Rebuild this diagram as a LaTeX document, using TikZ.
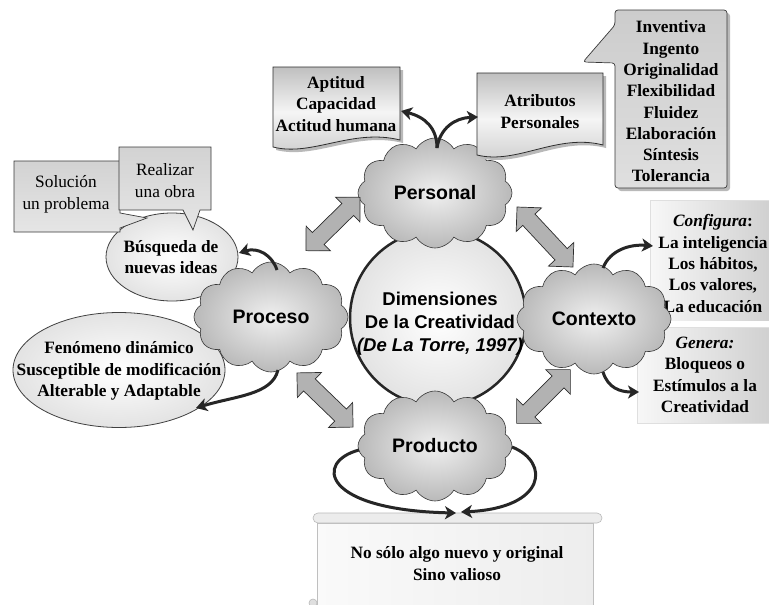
\documentclass[tikz,border=0pt]{standalone}
\usepackage{fontspec}
\setmainfont{Liberation Serif}
\setsansfont{Liberation Sans}
\usetikzlibrary{shapes.symbols,shapes.arrows,shapes.geometric,arrows.meta,calc}
\begin{document}
\begin{tikzpicture}[x=1pt,y=-1pt,
  cloudnode/.style={cloud, cloud puffs=12, cloud puff arc=120, aspect=1.45, draw=gray!45!black, line width=0.6pt, inner color=gray!12, outer color=gray!55, minimum width=154pt, minimum height=110pt, inner sep=0pt, font=\sffamily\bfseries\fontsize{19.5}{23}\selectfont},
  dbl/.style={double arrow, draw=gray!35!black, line width=0.7pt, fill=gray!60, inner sep=8pt, double arrow head extend=9pt},
  conn/.style={line width=3pt, draw=black!85, -{Stealth[length=11pt,width=13pt,inset=3pt]}},
  sb/.style={font=\bfseries\fontsize{17.3}{21.3}\selectfont, align=center, inner sep=0pt},
  sr/.style={font=\fontsize{17.3}{22}\selectfont, align=center, inner sep=0pt},
  ell/.style={ellipse, draw=gray!50!black, line width=0.8pt, inner color=white, outer color=gray!22, inner sep=0pt},
  docbox/.style={draw=gray!35!black, line width=0.8pt, top color=gray!50, bottom color=gray!40, middle color=gray!8},
  callout/.style={draw=gray!45!black, line width=0.7pt, top color=gray!35, bottom color=gray!20},
  shadowfill/.style={fill=gray!55, draw=none}
]
\useasboundingbox (0,0) rectangle (769,605);
\fill[white] (0,0) rectangle (769,605);

% ---- right-hand boxes (Configura / Genera)
\fill[left color=gray!6, right color=gray!38] (650,200) rectangle (775,320);
\draw[gray!25, line width=0.6pt] (775,200) -- (650,200) -- (650,320);
\fill[left color=gray!6, right color=gray!38] (637,327) rectangle (775,423);
\draw[gray!25, line width=0.6pt] (775,327) -- (637,327) -- (637,423) -- (775,423);
\node[sb] (conf) at (713,263.5) {\textit{Configura}:\\La inteligencia\\Los hábitos,\\Los valores,\\La educación};
\node[sb] (gen) at (705,375) {\textit{Genera:}\\Bloqueos o\\Estímulos a la\\Creatividad};

% ---- bottom scroll
\draw[gray!50, line width=0.6pt, left color=gray!4, right color=gray!14] (317,523) rectangle (593,612);
\draw[gray!55, line width=0.6pt, fill=gray!15, rounded corners=5pt] (313,513) rectangle (602,523);
\draw[gray!55, line width=0.6pt, fill=gray!25] (313,603) circle (4pt);
\node[sb] (prodt) at (457,563.5) {No sólo algo nuevo y original\\Sino valioso};

% ---- left ellipses
\node[ell, minimum width=132pt, minimum height=88pt] (busq) at (172,257) {};
\node[sb] (busqt) at (171,257) {Búsqueda de\\nuevas ideas};
\node[ell, minimum width=212pt, minimum height=115pt] (fen) at (119,370) {};
\node[sb] (fent) at (119,371) {Fenómeno dinámico\\Susceptible de modificación\\Alterable y Adaptable};

% ---- callouts
\draw[callout] (14,161) -- (120,161) -- (120,213) -- (147,218) -- (120,228) -- (120,232) -- (14,232) -- cycle;
\node[sr] (sol) at (66,194) {Solución\\un problema};
\draw[callout] (119,147) -- (211,147) -- (211,210) -- (200,210) -- (193,230) -- (183,210) -- (119,210) -- cycle;
\node[sr] (real) at (165,181) {Realizar\\una obra};

% ---- central circle
\node[circle, minimum size=176pt, line width=2.5pt, draw=black!85, inner color=white, outer color=gray!22] (centro) at (438,318) {};
\node[font=\sffamily\bfseries\fontsize{18.5}{23}\selectfont, align=center, inner sep=0pt] (centrot) at (440,324) {Dimensiones\\De la Creatividad\\\textit{(De La Torre, 1997)}};

% ---- clouds
\node[cloudnode] (personal) at (435,193) {Personal};
\node[cloudnode] (proceso) at (271,317) {Proceso};
\node[cloudnode] (contexto) at (594,319) {Contexto};
\node[cloudnode] (producto) at (435,446) {Producto};

% ---- top boxes
\fill[shadowfill] (276,70) -- (403,70) -- (403,143) .. controls (355,131) and (315,160) .. (276,150) -- cycle;
\draw[docbox] (273,67) -- (400,67) -- (400,140) .. controls (352,128) and (312,157) .. (273,147) -- cycle;
\node[sb] (apt) at (336,104) {Aptitud\\Capacidad\\Actitud humana};
\fill[shadowfill] (480,76) -- (606,76) -- (606,148) .. controls (560,136) and (520,168) .. (480,158) -- cycle;
\draw[docbox] (477,73) -- (603,73) -- (603,145) .. controls (557,133) and (517,165) .. (477,155) -- cycle;
\node[sb] (atr) at (540,111.5) {Atributos\\Personales};

\fill[shadowfill, rounded corners=3pt] (618,13) rectangle (730,191);
\draw[callout, rounded corners=3pt, top color=gray!40, bottom color=gray!25] (615,10) -- (727,10) -- (727,188) -- (615,188) -- (615,63) -- (583,62) -- (615,25) -- cycle;
\node[sb] (inv) at (671,101.5) {Inventiva\\Ingento\\Originalidad\\Flexibilidad\\Fluidez\\Elaboración\\Síntesis\\Tolerancia};

% ---- double block arrows
\node[dbl, rotate=44.5, minimum height=76pt] (a1) at (333,224) {};
\node[dbl, rotate=-47, minimum height=82pt] (a2) at (545,237) {};
\node[dbl, rotate=-44, minimum height=78pt] (a3) at (325,400) {};
\node[dbl, rotate=45, minimum height=76pt] (a4) at (543.5,396.5) {};

% ---- curved connectors
\coordinate (pTop) at (437,148);
\coordinate (aptE) at (401,111);
\coordinate (atrW) at (478,117);
\coordinate (prN) at (277,270);
\coordinate (busqE) at (239,253);
\coordinate (prS) at (278,370);
\coordinate (fenE) at (196,408);
\coordinate (cxN) at (603,268);
\coordinate (confW) at (653,246);
\coordinate (cxS) at (603,372);
\coordinate (genW) at (639,392);
\coordinate (pdW) at (359,450);
\coordinate (pdE) at (512,447);
\coordinate (scrL) at (456,513);
\coordinate (scrR) at (461,512);

\draw[conn] (pTop) .. controls (437,128) and (425,117) .. (aptE);
\draw[conn] (pTop) .. controls (440,128) and (455,118) .. (atrW);
\draw[conn] (prN) .. controls (272,255) and (258,247) .. (busqE);
\draw[conn] (prS) .. controls (272,395) and (235,396) .. (fenE);
\draw[conn] (cxN) .. controls (610,250) and (630,244) .. (confW);
\draw[conn] (cxS) .. controls (608,388) and (620,392) .. (genW);
\draw[conn] (pdW) .. controls (314,462) and (322,510) .. (scrL);
\draw[conn] (pdE) .. controls (550,462) and (547,508) .. (scrR);
\end{tikzpicture}
\end{document}
